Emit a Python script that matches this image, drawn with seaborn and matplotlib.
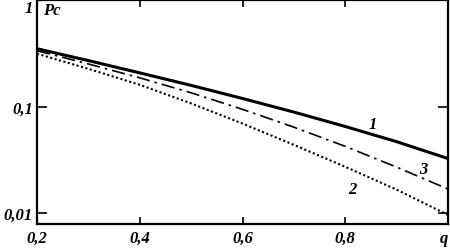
import numpy as np
import pandas as pd
import seaborn as sns
import matplotlib.pyplot as plt

q = [0.2, 0.3, 0.4, 0.5, 0.6, 0.7, 0.8, 0.9, 1.0]
pc_1 = [0.349, 0.270, 0.207, 0.158, 0.119, 0.0887, 0.0650, 0.0468, 0.0325]
pc_3 = [0.334, 0.251, 0.186, 0.1346, 0.0942, 0.064, 0.0423, 0.027, 0.0168]
pc_2 = [0.313, 0.226, 0.160, 0.107, 0.0692, 0.0437, 0.0272, 0.0166, 0.0096]

xticks = [0.2, 0.4, 0.6, 0.8, 1.0]
xticklabels = ["0,2", "0,4", "0,6", "0,8", "q"]
yticks = [0.01, 0.1, 1]
yticklabels = ["0,01", "0,1", "1"]

sns.set_style("ticks")
plt.rcParams['font.family'] = ['Liberation Serif', 'DejaVu Serif']

fig = plt.figure(figsize=(4.5, 2.51), dpi=100)
ax = fig.add_axes([37/450, 1 - 225/251, 411/450, 224/251])

df = pd.DataFrame({"q": q, "1": pc_1, "3": pc_3, "2": pc_2})
sns.lineplot(data=df, x="q", y="1", ax=ax, color="black", lw=2.2)
sns.lineplot(data=df, x="q", y="3", ax=ax, color="black", lw=1.2, linestyle=(0, (8, 3, 1.5, 3)))
sns.lineplot(data=df, x="q", y="2", ax=ax, color="black", lw=1.5, linestyle=(0, (1, 1.2)))

ax.set_yscale("log")
ax.set_xlim(0.2, 1.0)
ax.set_ylim(0.0079, 1.0)
ax.set_xticks(xticks)
ax.set_xticklabels(xticklabels)
ax.set_yticks(yticks)
ax.set_yticklabels(yticklabels)
ax.minorticks_off()
ax.set_xlabel("")
ax.set_ylabel("")

ax.tick_params(axis="both", direction="in", top=True, right=True, width=1.2,
               labelsize=12, colors="black")
ax.tick_params(axis="x", length=5, pad=4)
ax.tick_params(axis="y", length=7, pad=3)
for lab in ax.get_xticklabels() + ax.get_yticklabels():
    lab.set_style("italic")
    lab.set_weight("bold")
ax.get_yticklabels()[-1].set_verticalalignment("top")
ax.get_xticklabels()[-1].set_horizontalalignment("right")
for s in ax.spines.values():
    s.set_linewidth(1.6)
    s.set_color("black")

txt = dict(style="italic", weight="bold", fontsize=12, color="black")
ax.text(0.212, 0.8, "Pc", ha="left", va="center", **txt)
ax.text(0.853, 0.069, "1", ha="center", va="center", **txt)
ax.text(0.951, 0.026, "3", ha="center", va="center", **txt)
ax.text(0.814, 0.0168, "2", ha="center", va="center", **txt)

fig.savefig("out.png", dpi=100)
